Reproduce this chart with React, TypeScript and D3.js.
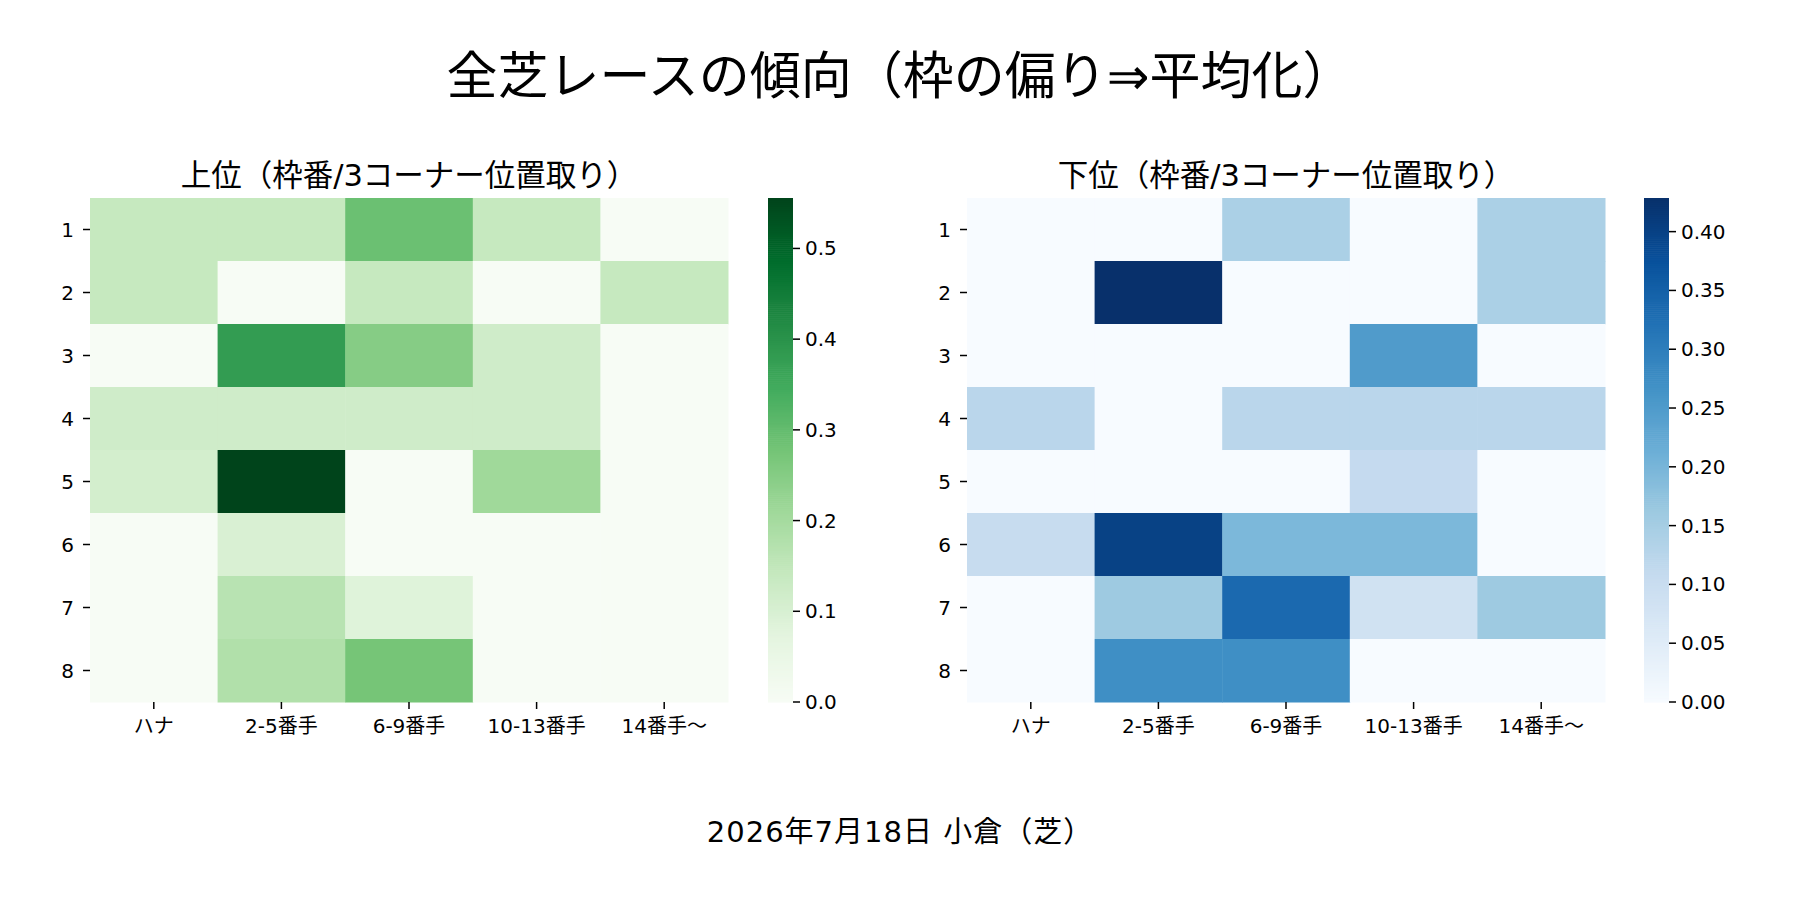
import React from "react";
import * as d3 from "d3";

// rows = 枠番, columns = 3コーナー位置取り
const frames = ["1", "2", "3", "4", "5", "6", "7", "8"];
const positions = ["ハナ", "2-5番手", "6-9番手", "10-13番手", "14番手〜"];

const topValues = [
  [0.14, 0.14, 0.29, 0.14, 0],
  [0.14, 0, 0.14, 0, 0.14],
  [0, 0.38, 0.25, 0.12, 0],
  [0.12, 0.12, 0.12, 0.12, 0],
  [0.11, 0.5556, 0, 0.21, 0],
  [0, 0.097, 0, 0, 0],
  [0, 0.166, 0.083, 0, 0],
  [0, 0.18, 0.275, 0, 0],
];

const bottomValues = [
  [0, 0, 0.143, 0, 0.143],
  [0, 0.4286, 0, 0, 0.143],
  [0, 0, 0, 0.25, 0],
  [0.123, 0, 0.123, 0.123, 0.123],
  [0, 0, 0, 0.109, 0],
  [0.105, 0.4, 0.196, 0.196, 0],
  [0, 0.161, 0.335, 0.085, 0.161],
  [0, 0.272, 0.272, 0, 0],
];

const topTicks = [0, 0.1, 0.2, 0.3, 0.4, 0.5];
const bottomTicks = [0, 0.05, 0.1, 0.15, 0.2, 0.25, 0.3, 0.35, 0.4];

const greens = ["#f7fcf5", "#e5f5e0", "#c7e9c0", "#a1d99b", "#74c476", "#41ab5d", "#238b45", "#006d2c", "#00441b"];
const blues = ["#f7fbff", "#deebf7", "#c6dbef", "#9ecae1", "#6baed6", "#4292c6", "#2171b5", "#08519c", "#08306b"];

const FONT = "'DejaVu Sans', 'Noto Sans CJK JP', sans-serif";
const TOP = 198;
const BOTTOM = 702;

interface PanelProps {
  values: number[][];
  stops: string[];
  ticks: number[];
  fmt: string;
  title: string;
  x0: number;
  x1: number;
  cbX: number;
}

const Panel: React.FC<PanelProps> = ({ values, stops, ticks, fmt, title, x0, x1, cbX }) => {
  const vmax = d3.max(values.flat()) || 1;
  const color = d3
    .scaleLinear<string>()
    .domain(stops.map((_, i) => (vmax * i) / (stops.length - 1)))
    .range(stops)
    .interpolate(d3.interpolateRgb)
    .clamp(true);
  const x = d3.scaleBand().domain(positions).range([x0, x1]);
  const y = d3.scaleBand().domain(frames).range([TOP, BOTTOM]);
  const cy = d3.scaleLinear().domain([0, vmax]).range([BOTTOM, TOP]);
  const cbW = 25;
  const steps = d3.range(256);
  const f = d3.format(fmt);

  return (
    <g>
      <text x={(x0 + x1) / 2} y={186} textAnchor="middle" fontSize={30.5} fontFamily={FONT}>
        {title}
      </text>
      {values.map((row, r) =>
        row.map((v, c) => (
          <rect
            key={`${r}-${c}`}
            x={x(positions[c])}
            y={y(frames[r])}
            width={x.bandwidth() + 0.5}
            height={y.bandwidth() + 0.5}
            fill={color(v)}
          />
        ))
      )}
      {frames.map((fr) => {
        const yy = (y(fr) || 0) + y.bandwidth() / 2;
        return (
          <g key={fr}>
            <line x1={x0 - 7} x2={x0} y1={yy} y2={yy} stroke="#000" strokeWidth={1.5} />
            <text x={x0 - 16} y={yy} textAnchor="end" dominantBaseline="central" fontSize={20} fontFamily={FONT}>
              {fr}
            </text>
          </g>
        );
      })}
      {positions.map((p) => {
        const xx = (x(p) || 0) + x.bandwidth() / 2;
        return (
          <g key={p}>
            <line x1={xx} x2={xx} y1={BOTTOM} y2={BOTTOM + 7} stroke="#000" strokeWidth={1.5} />
            <text x={xx} y={733} textAnchor="middle" fontSize={20} fontFamily={FONT}>
              {p}
            </text>
          </g>
        );
      })}
      {steps.map((i) => {
        const a = (vmax * i) / 256;
        const b = (vmax * (i + 1)) / 256;
        return (
          <rect
            key={i}
            x={cbX}
            y={cy(b)}
            width={cbW}
            height={cy(a) - cy(b) + 0.6}
            fill={color((a + b) / 2)}
          />
        );
      })}
      {ticks.map((t) => (
        <g key={t}>
          <line x1={cbX + cbW} x2={cbX + cbW + 7} y1={cy(t)} y2={cy(t)} stroke="#000" strokeWidth={1.5} />
          <text x={cbX + cbW + 12} y={cy(t)} dominantBaseline="central" fontSize={20} fontFamily={FONT}>
            {f(t)}
          </text>
        </g>
      ))}
    </g>
  );
};

export default function App() {
  return (
    <svg
      width={1800}
      height={900}
      viewBox="0 0 1800 900"
      style={{ position: "absolute", left: 0, top: 0, background: "#fff" }}
    >
      <rect width={1800} height={900} fill="#fff" />
      <text x={900} y={94} textAnchor="middle" fontSize={51} fontFamily={FONT}>
        全芝レースの傾向（枠の偏り⇒平均化）
      </text>
      <Panel
        values={topValues}
        stops={greens}
        ticks={topTicks}
        fmt=".1f"
        title="上位（枠番/3コーナー位置取り）"
        x0={90}
        x1={728}
        cbX={768}
      />
      <Panel
        values={bottomValues}
        stops={blues}
        ticks={bottomTicks}
        fmt=".2f"
        title="下位（枠番/3コーナー位置取り）"
        x0={967}
        x1={1605}
        cbX={1644}
      />
      <text x={900} y={842} textAnchor="middle" fontSize={29} letterSpacing={1} fontFamily={FONT}>
        2026年7月18日 小倉（芝）
      </text>
    </svg>
  );
}
